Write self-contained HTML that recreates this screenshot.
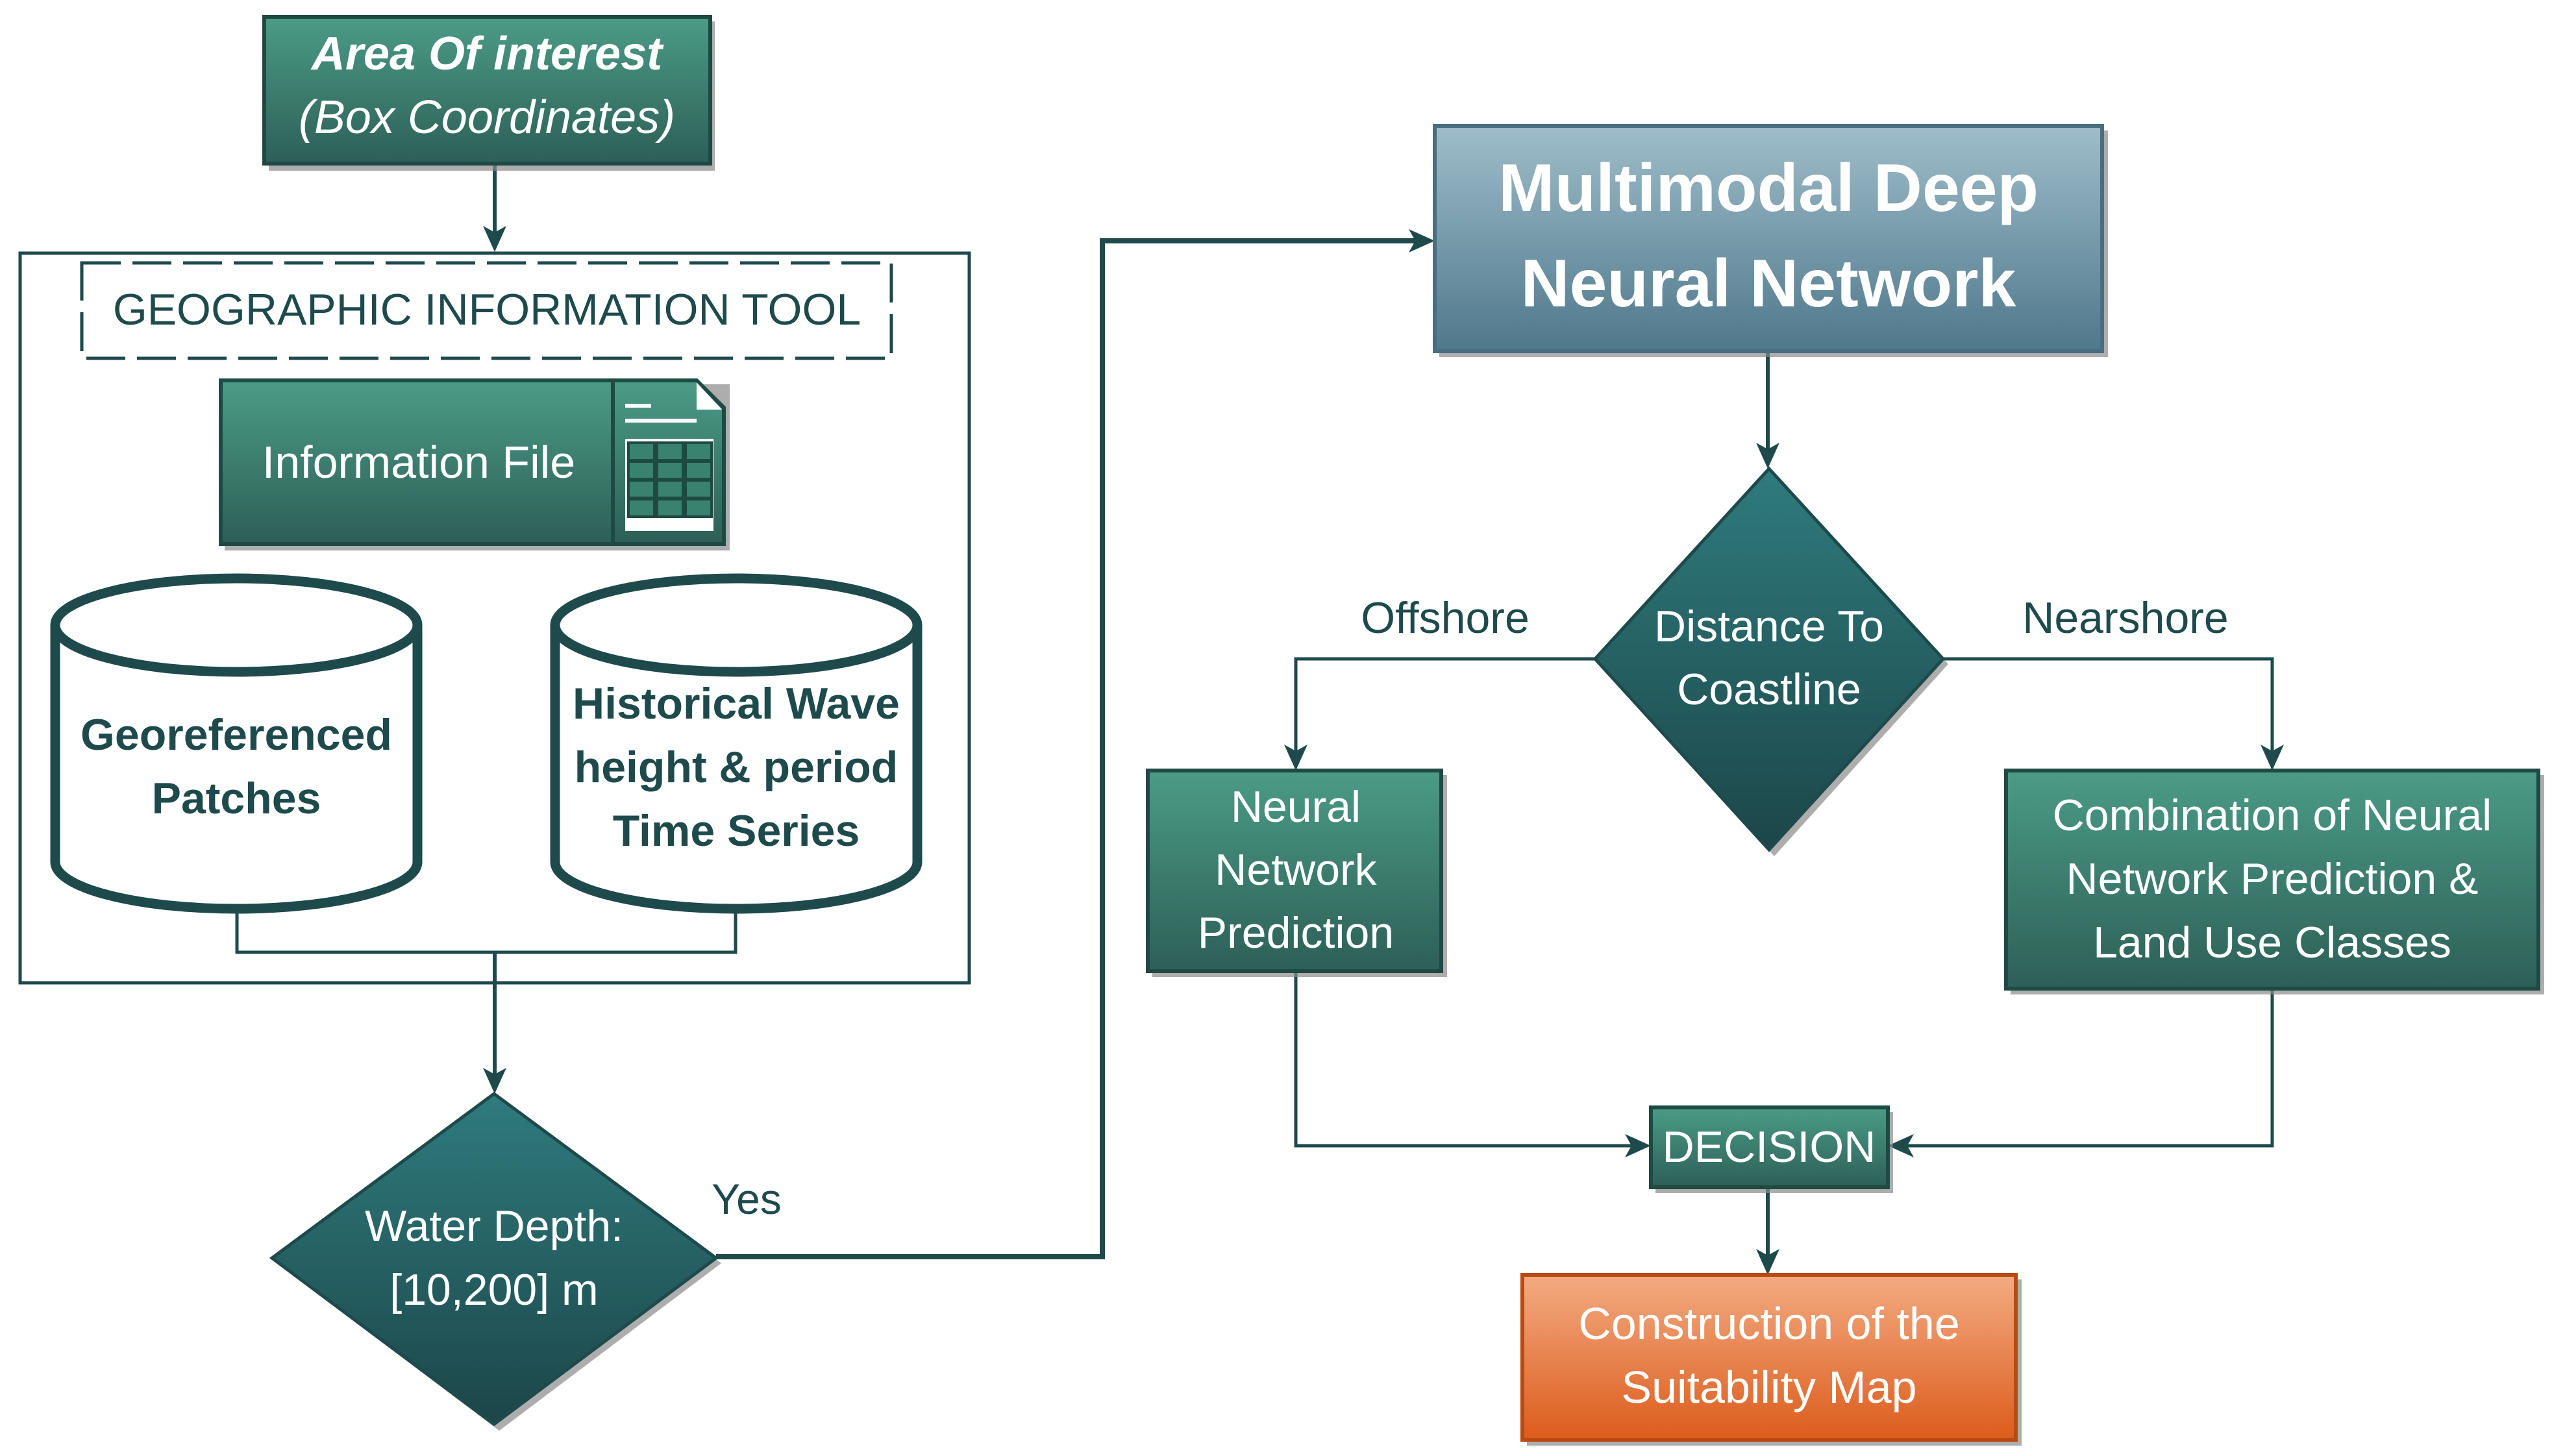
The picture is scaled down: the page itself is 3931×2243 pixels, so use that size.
<!DOCTYPE html>
<html><head><meta charset="utf-8"><style>
html,body{margin:0;padding:0;background:#fff;}
svg{display:block;}
text{font-family:"Liberation Sans",sans-serif;}
</style></head><body>
<svg width="3931" height="2243" viewBox="0 0 3931 2243" xmlns="http://www.w3.org/2000/svg">
<defs>
<linearGradient id="g" x1="0" y1="0" x2="0" y2="1"><stop offset="0" stop-color="#4b9b87"/><stop offset="1" stop-color="#2d5f56"/></linearGradient>
<linearGradient id="b" x1="0" y1="0" x2="0" y2="1"><stop offset="0" stop-color="#9fbdca"/><stop offset="1" stop-color="#4f788b"/></linearGradient>
<linearGradient id="d" x1="0" y1="0" x2="0" y2="1"><stop offset="0" stop-color="#2f7b7d"/><stop offset="1" stop-color="#1c4649"/></linearGradient>
<linearGradient id="o" x1="0" y1="0" x2="0" y2="1"><stop offset="0" stop-color="#f3ab82"/><stop offset="1" stop-color="#dc5c1c"/></linearGradient>
</defs>
<g fill="none" stroke="#1e4a4c">
<line x1="762" y1="253" x2="762" y2="370" stroke-width="6"/>
<polyline points="365,1396 365,1467 1133,1467 1133,1396" stroke-width="5"/>
<line x1="762" y1="1467" x2="762" y2="1665" stroke-width="6"/>
<polyline points="1103,1936 1698,1936 1698,371 2185,371" stroke-width="8"/>
<line x1="2723" y1="542" x2="2723" y2="700" stroke-width="6"/>
<polyline points="2457,1015 1996,1015 1996,1165" stroke-width="5"/>
<polyline points="2993,1015 3500,1015 3500,1165" stroke-width="5"/>
<polyline points="1996,1497 1996,1765 2520,1765" stroke-width="5"/>
<polyline points="3500,1524 3500,1765 2930,1765" stroke-width="5"/>
<line x1="2723" y1="1830" x2="2723" y2="1945" stroke-width="6"/>
</g>
<g fill="#1e4a4c">
<path d="M744,348 L762,388 L780,348 L762,358 z"/>
<path d="M744,1645 L762,1685 L780,1645 L762,1655 z"/>
<path d="M2170,353 L2210,371 L2170,389 L2180,371 z"/>
<path d="M2705,682 L2723,722 L2741,682 L2723,692 z"/>
<path d="M1978,1147 L1996,1187 L2014,1147 L1996,1157 z"/>
<path d="M3482,1147 L3500,1187 L3518,1147 L3500,1157 z"/>
<path d="M2503,1747 L2543,1765 L2503,1783 L2513,1765 z"/>
<path d="M2948,1747 L2908,1765 L2948,1783 L2938,1765 z"/>
<path d="M2705,1924 L2723,1964 L2741,1924 L2723,1934 z"/>
</g>
<rect x="31" y="390" width="1462" height="1124" fill="none" stroke="#1e4a4c" stroke-width="5"/>
<rect x="126" y="405" width="1247" height="147" fill="none" stroke="#1e4a4c" stroke-width="5" stroke-dasharray="60,18"/>
<text x="750" y="500" font-size="68" fill="#1e4a4c" text-anchor="middle">GEOGRAPHIC INFORMATION TOOL</text>
<g fill="#8a8a8a" opacity="0.7">
<rect x="414" y="33" width="687" height="230"/>
<rect x="346" y="592" width="778" height="256"/>
<rect x="2217" y="201" width="1030" height="349"/>
<rect x="1775" y="1194" width="454" height="311"/>
<rect x="3097" y="1194" width="822" height="338"/>
<rect x="2550" y="1713" width="366" height="125"/>
<rect x="2352" y="1971" width="762" height="256"/>
</g>
<rect x="407" y="26" width="687" height="226" fill="url(#g)" stroke="#1f4a44" stroke-width="6"/>
<text x="750" y="107" font-size="72" font-style="italic" font-weight="bold" fill="#fff" text-anchor="middle">Area Of interest</text>
<text x="750" y="205" font-size="72" font-style="italic" fill="#fff" text-anchor="middle">(Box Coordinates)</text>
<rect x="340" y="586" width="604" height="252" fill="url(#g)" stroke="#1f4a44" stroke-width="6"/>
<path d="M944,586 L1073,586 L1115,628 L1115,838 L944,838 z" fill="url(#g)" stroke="#1f4a44" stroke-width="6"/>
<path d="M1073,589 L1073,631 L1112,631 z" fill="#fff"/>
<rect x="963" y="622" width="40" height="6" fill="#fff"/>
<rect x="963" y="645" width="110" height="6" fill="#fff"/>
<rect x="963" y="676" width="136" height="142" fill="#fff"/>
<g fill="#3a8270" stroke="#1f4a44" stroke-width="4">
<rect x="968" y="682" width="40" height="27"/><rect x="1012" y="682" width="40" height="27"/><rect x="1056" y="682" width="40" height="27"/>
<rect x="968" y="711" width="40" height="27"/><rect x="1012" y="711" width="40" height="27"/><rect x="1056" y="711" width="40" height="27"/>
<rect x="968" y="740" width="40" height="27"/><rect x="1012" y="740" width="40" height="27"/><rect x="1056" y="740" width="40" height="27"/>
<rect x="968" y="769" width="40" height="27"/><rect x="1012" y="769" width="40" height="27"/><rect x="1056" y="769" width="40" height="27"/>
</g>
<text x="645" y="736" font-size="70" fill="#fff" text-anchor="middle">Information File</text>
<g fill="#fff" stroke="#1e4a4c" stroke-width="15">
<path d="M85,963 L85,1328 A279,72 0 0 0 643,1328 L643,963"/>
<ellipse cx="364" cy="963" rx="279" ry="72"/>
<path d="M855,963 L855,1328 A279,72 0 0 0 1413,1328 L1413,963"/>
<ellipse cx="1134" cy="963" rx="279" ry="72"/>
</g>
<g font-size="68" font-weight="bold" fill="#1e4a4c" text-anchor="middle">
<text x="364" y="1155">Georeferenced</text>
<text x="364" y="1253">Patches</text>
<text x="1134" y="1107">Historical Wave</text>
<text x="1134" y="1205">height &amp; period</text>
<text x="1134" y="1303">Time Series</text>
</g>
<polygon points="769,1695 1111,1946 769,2204 427,1946" fill="#8a8a8a" opacity="0.7"/>
<polygon points="761,1685 1103,1938 761,2194 419,1938" fill="url(#d)" stroke="#1e4a4c" stroke-width="5"/>
<text x="761" y="1912" font-size="68" fill="#fff" text-anchor="middle">Water Depth:</text>
<text x="761" y="2010" font-size="68" fill="#fff" text-anchor="middle">[10,200] m</text>
<text x="1150" y="1870" font-size="66" fill="#1e4a4c" text-anchor="middle">Yes</text>
<rect x="2210" y="194" width="1028" height="347" fill="url(#b)" stroke="#4a6e80" stroke-width="6"/>
<text x="2724" y="325" font-size="104" font-weight="bold" fill="#fff" text-anchor="middle">Multimodal Deep</text>
<text x="2724" y="472" font-size="104" font-weight="bold" fill="#fff" text-anchor="middle">Neural Network</text>
<polygon points="2733,732 3001,1023 2733,1319 2465,1023" fill="#8a8a8a" opacity="0.7"/>
<polygon points="2725,722 2993,1015 2725,1309 2457,1015" fill="url(#d)" stroke="#1e4a4c" stroke-width="5"/>
<text x="2725" y="988" font-size="68" fill="#fff" text-anchor="middle">Distance To</text>
<text x="2725" y="1085" font-size="68" fill="#fff" text-anchor="middle">Coastline</text>
<text x="2226" y="975" font-size="68" fill="#1e4a4c" text-anchor="middle">Offshore</text>
<text x="3274" y="975" font-size="68" fill="#1e4a4c" text-anchor="middle">Nearshore</text>
<rect x="1768" y="1187" width="452" height="309" fill="url(#g)" stroke="#1f4a44" stroke-width="6"/>
<g font-size="68" fill="#fff" text-anchor="middle">
<text x="1996" y="1266">Neural</text>
<text x="1996" y="1363">Network</text>
<text x="1996" y="1460">Prediction</text>
</g>
<rect x="3090" y="1187" width="820" height="336" fill="url(#g)" stroke="#1f4a44" stroke-width="6"/>
<g font-size="68" fill="#fff" text-anchor="middle">
<text x="3500" y="1279">Combination of Neural</text>
<text x="3500" y="1377">Network Prediction &amp;</text>
<text x="3500" y="1475">Land Use Classes</text>
</g>
<rect x="2543" y="1706" width="365" height="123" fill="url(#g)" stroke="#1f4a44" stroke-width="6"/>
<text x="2725" y="1790" font-size="68" fill="#fff" text-anchor="middle">DECISION</text>
<rect x="2345" y="1964" width="760" height="254" fill="url(#o)" stroke="#b84a12" stroke-width="6"/>
<text x="2725" y="2063" font-size="70" fill="#fff" text-anchor="middle">Construction of the</text>
<text x="2725" y="2161" font-size="70" fill="#fff" text-anchor="middle">Suitability Map</text>
</svg>
</body></html>
